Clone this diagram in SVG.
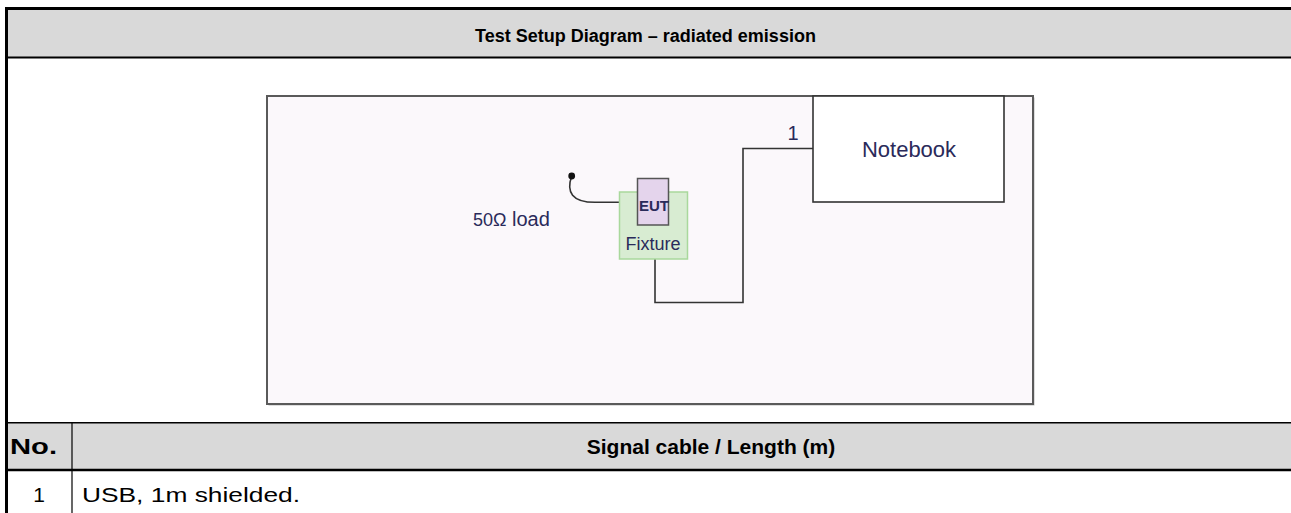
<svg xmlns="http://www.w3.org/2000/svg" width="1291" height="513" viewBox="0 0 1291 513">
<style>
.hdr{font-family:"Liberation Sans",Arial,sans-serif;font-weight:bold;fill:#000}
.body{font-family:"Liberation Sans",Arial,sans-serif;font-size:21px;fill:#000}
.lbl{font-family:"Liberation Sans",Arial,sans-serif;fill:#2a2a5a}
.cable{fill:none;stroke:#333;stroke-width:1.6}
</style>
<rect x="0" y="0" width="1291" height="513" fill="#fff"/>
<g id="table">
<rect x="6" y="9" width="1285" height="48" fill="#d9d9d9"/>
<rect x="6" y="423" width="1285" height="47" fill="#d9d9d9"/>
<line x1="5" y1="8.5" x2="1291" y2="8.5" stroke="#000" stroke-width="3"/>
<line x1="5" y1="57.5" x2="1291" y2="57.5" stroke="#000" stroke-width="2"/>
<line x1="5" y1="422.7" x2="1291" y2="422.7" stroke="#000" stroke-width="1.5"/>
<line x1="5" y1="470" x2="1291" y2="470" stroke="#000" stroke-width="2.5"/>
<line x1="6.5" y1="7" x2="6.5" y2="513" stroke="#000" stroke-width="3"/>
<line x1="72" y1="423" x2="72" y2="513" stroke="#000" stroke-width="1.2"/>
<text class="hdr" x="645.5" y="42" font-size="18" text-anchor="middle">Test Setup Diagram – radiated emission</text>
<text class="hdr" x="10" y="454" font-size="22" textLength="47" lengthAdjust="spacingAndGlyphs">No.</text>
<text class="hdr" x="711" y="454" font-size="21" text-anchor="middle">Signal cable / Length (m)</text>
<text class="body" x="39" y="502" text-anchor="middle">1</text>
<text class="body" x="82" y="502" textLength="218" lengthAdjust="spacingAndGlyphs">USB, 1m shielded.</text>
</g>
<g id="frame">
<rect x="268.5" y="97.5" width="766" height="308" fill="#bbb"/>
<rect x="267" y="96" width="766" height="308" fill="#fbf8fb" stroke="#5a5a5a" stroke-width="2"/>
</g>
<g id="connectors">
<path class="cable" d="M813,148.5 H743 V302.5 H655 V259"/>
<path class="cable" d="M571.7,176 C566,192 572,202.3 595,202.3 H627"/>
<circle cx="571.7" cy="176" r="3.4" fill="#111"/>
<circle cx="627.3" cy="202.3" r="3.4" fill="#111"/>
<text class="lbl" x="793" y="140" font-size="20" text-anchor="middle" fill="#7a2a1a">1</text>
</g>
<g id="notebook">
<rect x="813" y="96" width="191" height="106" fill="#fff" stroke="#333" stroke-width="1.6"/>
<text class="lbl" x="909" y="157" font-size="22" text-anchor="middle">Notebook</text>
</g>
<g id="fixture">
<rect x="619.5" y="192" width="68" height="67" fill="#d8ecd2" stroke="#a9d89c" stroke-width="1.5"/>
<text class="lbl" x="653" y="250" font-size="18" text-anchor="middle" fill="#4a2a3a">Fixture</text>
</g>
<g id="eut">
<rect x="637.5" y="178.5" width="31" height="46.5" fill="#e4d4ec" stroke="#555" stroke-width="1.5"/>
<text class="lbl" x="654" y="211" font-size="15" font-weight="bold" fill="#1a3a8a" text-anchor="middle">EUT</text>
</g>
<g id="load">
<text class="lbl" x="473" y="226" font-size="20"><tspan font-size="18">50Ω</tspan> load</text>
</g>
</svg>
